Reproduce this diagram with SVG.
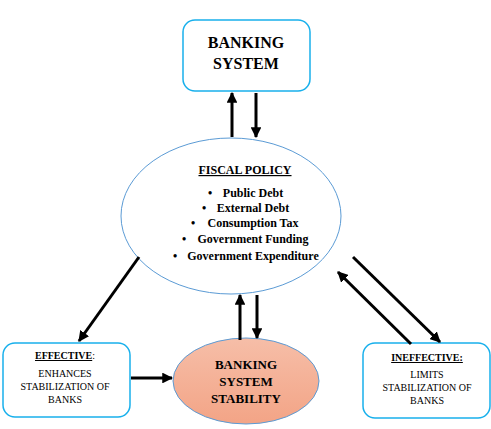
<svg xmlns="http://www.w3.org/2000/svg" width="491" height="429" viewBox="0 0 491 429">
<defs>
<marker id="ah" viewBox="0 0 10 10" refX="9" refY="5" markerWidth="3.6" markerHeight="3.6" orient="auto" markerUnits="strokeWidth">
<path d="M0,0 L10,5 L0,10 z" fill="#000"/>
</marker>
<linearGradient id="sal" x1="0" y1="0" x2="0" y2="1">
<stop offset="0" stop-color="#f6bea8"/>
<stop offset="1" stop-color="#f3a486"/>
</linearGradient>
<style>
.box{fill:#fff;stroke:#18b0ec;stroke-width:1.5}
.ell{stroke:#5b9bd5;stroke-width:1}
.c line{stroke:#000;stroke-width:3;marker-end:url(#ah)}
</style>
</defs>
<rect width="491" height="429" fill="#fff"/>
<g id="banking-system" font-family="Liberation Serif" text-anchor="middle" font-weight="bold" font-size="16">
<rect class="box" x="183" y="20" width="127" height="71" rx="12"/>
<text x="246" y="48">BANKING</text>
<text x="246" y="69">SYSTEM</text>
</g>
<g id="fiscal-policy" font-family="Liberation Serif" text-anchor="middle" font-weight="bold" font-size="12">
<ellipse class="ell" cx="231" cy="216" rx="110" ry="78" fill="#fff"/>
<text x="245" y="174" text-decoration="underline">FISCAL POLICY</text>
<text x="253" y="197">Public Debt</text>
<text x="253" y="212">External Debt</text>
<text x="253" y="227">Consumption Tax</text>
<text x="253" y="243">Government Funding</text>
<text x="253" y="260">Government Expenditure</text>
<text x="210" y="197">•</text>
<text x="204" y="212">•</text>
<text x="193" y="227">•</text>
<text x="184" y="243">•</text>
<text x="175" y="260">•</text>
</g>
<g id="effective" font-family="Liberation Serif" text-anchor="middle" font-size="10">
<rect class="box" x="3" y="343" width="127" height="74" rx="12"/>
<text x="65" y="359"><tspan font-weight="bold" text-decoration="underline">EFFECTIVE</tspan>:</text>
<text x="65" y="377">ENHANCES</text>
<text x="65" y="390">STABILIZATION OF</text>
<text x="65" y="403">BANKS</text>
</g>
<g id="stability" font-family="Liberation Serif" text-anchor="middle" font-weight="bold" font-size="13">
<ellipse class="ell" cx="246" cy="381" rx="73" ry="43" fill="url(#sal)"/>
<text x="246" y="369">BANKING</text>
<text x="246" y="386">SYSTEM</text>
<text x="246" y="403">STABILITY</text>
</g>
<g id="ineffective" font-family="Liberation Serif" text-anchor="middle" font-size="10">
<rect class="box" x="363" y="343" width="127" height="75" rx="12"/>
<text x="427" y="361" font-weight="bold" text-decoration="underline">INEFFECTIVE:</text>
<text x="427" y="378">LIMITS</text>
<text x="427" y="391">STABILIZATION OF</text>
<text x="427" y="404">BANKS</text>
</g>
<g id="connectors" class="c">
<line x1="232" y1="137" x2="232" y2="93"/>
<line x1="256" y1="93" x2="256" y2="137"/>
<line x1="139" y1="257" x2="79" y2="341"/>
<line x1="240" y1="340" x2="240" y2="295"/>
<line x1="257" y1="295" x2="257" y2="338"/>
<line x1="131" y1="378" x2="172" y2="378"/>
<line x1="353" y1="257" x2="440" y2="342"/>
<line x1="411" y1="344" x2="338" y2="272"/>
</g>
</svg>
